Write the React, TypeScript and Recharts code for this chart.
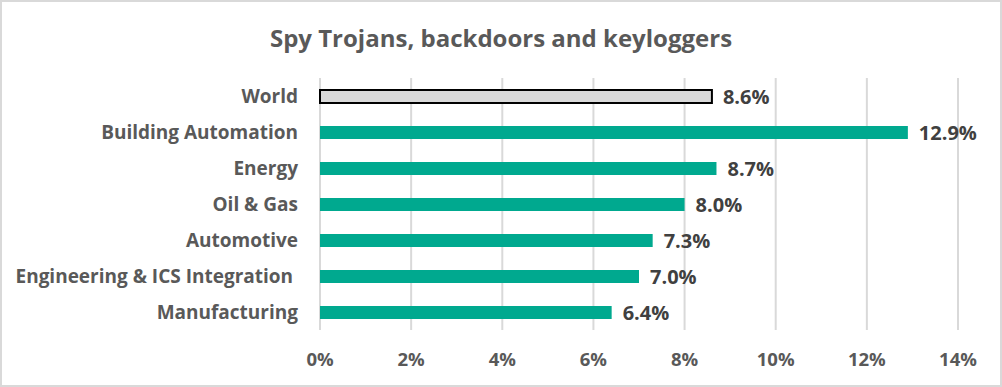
import React from 'react';
import { BarChart, Bar, XAxis, YAxis, CartesianGrid, Cell, LabelList } from 'recharts';

const categories = ['World', 'Building Automation', 'Energy', 'Oil & Gas', 'Automotive', 'Engineering & ICS Integration ', 'Manufacturing'];
const values = [8.6, 12.9, 8.7, 8.0, 7.3, 7.0, 6.4];
const xTicks = [0, 2, 4, 6, 8, 10, 12, 14];

const TEAL = '#00A98F';
const FONT = '"Open Sans", sans-serif';

const data = categories.map((name, i) => ({ name, value: values[i] }));

const CategoryTick = ({ x, y, payload }: any) => (
  <text x={x} y={y} dy={7} textAnchor="end" fill="#595959" fontFamily={FONT} fontWeight={700} fontSize={19} style={{ whiteSpace: 'pre' }}>
    {payload.value}
  </text>
);

export default function App() {
  return (
    <div
      style={{
        position: 'absolute',
        left: 0,
        top: 0,
        width: 1002,
        height: 387,
        boxSizing: 'border-box',
        border: '2px solid #d9d9d9',
        background: '#fff',
      }}
    >
      <div
        style={{
          position: 'absolute',
          top: 19,
          left: 0,
          width: 998,
          textAlign: 'center',
          fontFamily: FONT,
          fontWeight: 700,
          fontSize: 24,
          color: '#595959',
        }}
      >
        Spy Trojans, backdoors and keyloggers
      </div>
      <div style={{ position: 'absolute', left: -2, top: -2 }}>
        <BarChart
          width={1002}
          height={387}
          data={data}
          layout="vertical"
          margin={{ top: 78, right: 44, bottom: 27, left: 0 }}
          barCategoryGap={0}
        >
          <CartesianGrid horizontal={false} stroke="#d9d9d9" strokeWidth={2} />
          <XAxis
            type="number"
            domain={[0, 14]}
            ticks={xTicks}
            height={30}
            axisLine={false}
            tickLine={false}
            tickMargin={17}
            tickFormatter={(v: number) => `${v}%`}
            tick={{ fill: '#595959', fontFamily: FONT, fontWeight: 700, fontSize: 18.5 }}
          />
          <YAxis
            type="category"
            dataKey="name"
            width={320}
            axisLine={false}
            tickLine={false}
            tickMargin={16}
            tick={<CategoryTick />}
          />
          <Bar dataKey="value" barSize={13} isAnimationActive={false}>
            {data.map((d, i) => (
              <Cell
                key={`cell-${i}`}
                fill={i === 0 ? '#d9d9d9' : TEAL}
                stroke={i === 0 ? '#000' : 'none'}
                strokeWidth={i === 0 ? 2 : 0}
              />
            ))}
            <LabelList
              dataKey="value"
              position="right"
              offset={11}
              formatter={(v: number) => `${v.toFixed(1)}%`}
              fill="#404040"
              fontFamily={FONT}
              fontWeight={700}
              fontSize={20}
            />
          </Bar>
        </BarChart>
      </div>
    </div>
  );
}
